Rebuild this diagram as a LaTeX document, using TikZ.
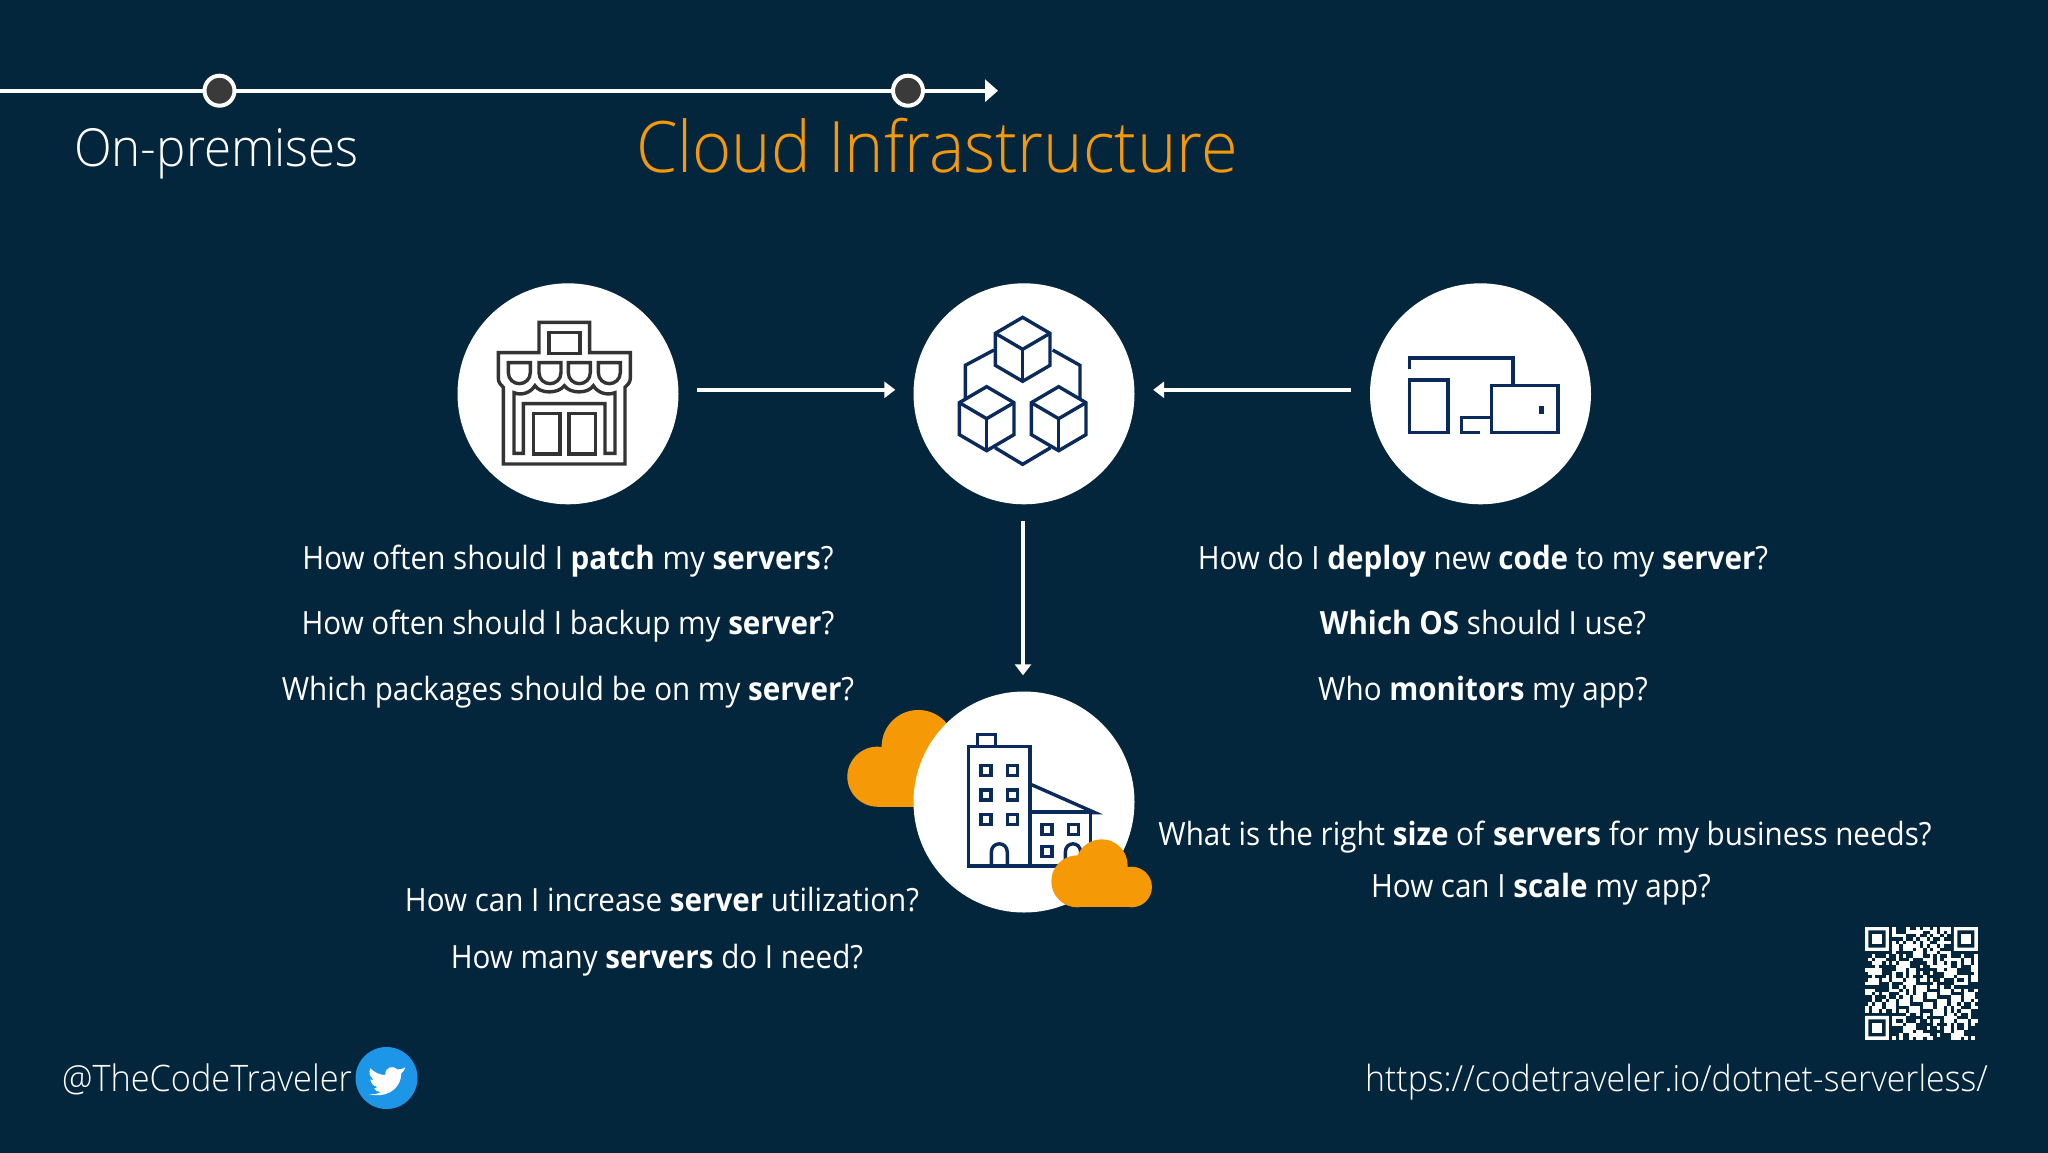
\documentclass[tikz,border=0pt]{standalone}
\usepackage{fontspec}
\setmainfont{Open Sans}[FakeStretch=0.925]
\newfontfamily\lightf{Open Sans Light}[FakeStretch=0.94]
\usetikzlibrary{arrows.meta,calc}
\definecolor{bg}{HTML}{03263C}
\definecolor{navy}{HTML}{0B2A5C}
\definecolor{inkgrey}{HTML}{333333}
\definecolor{amber}{HTML}{F59A06}
\definecolor{tw}{HTML}{1D96E8}
\definecolor{dot}{HTML}{3A3A3A}
\tikzset{
  disc/.style={circle,fill=white,minimum size=221pt,inner sep=0pt},
  arr/.style={white,line width=3.6pt,-{Triangle[width=16pt,length=11pt]}},
  q/.style={text=white,anchor=base,inner sep=0pt,font=\fontsize{32}{38}\selectfont},
  tl/.style={circle,draw=white,line width=4pt,fill=dot,minimum size=30pt,inner sep=0pt},
  iconline/.style={line width=3.4pt,draw=navy,line join=miter},
  storeline/.style={line width=3.4pt,draw=inkgrey,line join=miter},
}
\begin{document}
\begin{tikzpicture}[x=1pt,y=-1pt]
\useasboundingbox (0,0) rectangle (2048,1152);
\fill[bg] (-3,-3) rectangle (2051,1155);

% timeline
\coordinate (ls) at (0,90.7);
\coordinate (le) at (998,90.7);
\draw[white,line width=4pt,-{Triangle[width=22pt,length=13pt]}] (ls) -- (le);
\node[tl] (t1) at (219.5,90.7) {};
\node[tl] (t2) at (908,90.7) {};
\node[text=white,anchor=base,inner sep=0pt,font=\fontsize{52.4}{62}\lightf] (onprem) at (216.5,166) {On-premises};
\node[text=amber,anchor=base,inner sep=0pt,font=\fontsize{71}{85}\lightf] (cloud) at (937,172) {Cloud Infrastructure};

% left cloud behind the building disc
\begin{scope}[shift={(830,680)},x=.3333pt,y=-.3333pt]
  \fill[amber] (142,290) circle[radius=30pt];
  \fill[amber] (265,200) circle[radius=36.7pt];
  \fill[amber] (142,240) rectangle (400,380);
\end{scope}

% discs
\node[disc] (store) at (568,393.8) {};
\node[disc] (cubes) at (1024,393.8) {};
\node[disc] (devices) at (1480.5,393.8) {};
\node[disc] (building) at (1024,802) {};

% arrows
\draw[arr] ([xshift=18.5pt,yshift=4pt]store.east) -- ([xshift=-18pt,yshift=4pt]cubes.west);
\draw[arr] ([xshift=-18.5pt,yshift=4pt]devices.west) -- ([xshift=18.5pt,yshift=4pt]cubes.east);
\draw[arr] ([xshift=-1pt,yshift=-16.5pt]cubes.south) -- ([xshift=-1pt,yshift=16pt]building.north);

% store icon
\begin{scope}[shift={(440,270)},x=.3333pt,y=-.3333pt]
  \draw[storeline] (297,157) -- (449,157) -- (449,248) -- (571,248) -- (571,325) .. controls (571,338) and (562,345) .. (555,352) -- (555,582) -- (190,582) -- (190,352) .. controls (183,345) and (175,338) .. (175,325) -- (175,248) -- (297,248) -- cycle;
  \draw[storeline] (327,187) rectangle (420,250);
  \foreach \a in {205,297,385,475}{
    \draw[storeline] (\a,278) -- (\a+66,278) -- (\a+66,308) .. controls (\a+66,328) and (\a+50,341) .. (\a+33,341) .. controls (\a+16,341) and (\a,328) .. (\a,308) -- cycle;
  }
  \draw[storeline] (222,550) -- (222,368) .. controls (245,378) and (272,368) .. (285,347) .. controls (300,372) and (355,372) .. (373,347) .. controls (390,372) and (445,372) .. (460,347) .. controls (473,368) and (500,378) .. (525,368) -- (525,550) -- (495,550) -- (495,401) -- (250,401) -- (250,550) -- cycle;
  \draw[storeline] (280,430) rectangle (360,552);
  \draw[storeline] (387,430) rectangle (466,552);
\end{scope}

% cubes icon
\begin{scope}[shift={(900,270)},x=.3333pt,y=-.3333pt]
  \foreach \cx/\cy in {368/238,260/446,476/446}{
    \draw[iconline] (\cx,\cy-96) -- (\cx+82,\cy-48) -- (\cx+82,\cy+48) -- (\cx,\cy+96) -- (\cx-82,\cy+48) -- (\cx-82,\cy-48) -- cycle;
    \draw[iconline] (\cx-82,\cy-48) -- (\cx,\cy) -- (\cx+82,\cy-48);
    \draw[iconline] (\cx,\cy) -- (\cx,\cy+96);
  }
  \draw[iconline] (282,240) -- (196,286) -- (196,385);
  \draw[iconline] (458,240) -- (540,286) -- (540,385);
  \draw[iconline] (285,533) -- (368,583) -- (452,533);
\end{scope}

% devices icon
\begin{scope}[shift={(1360,270)},x=.3333pt,y=-.3333pt]
  \draw[iconline] (149,298) -- (149,264) -- (459,264) -- (459,347);
  \draw[iconline] (149,330) rectangle (264,487);
  \draw[iconline] (394,347) rectangle (594,487);
  \draw[iconline] (361,487) -- (305,487) -- (305,442) -- (394,442);
  \fill[navy] (538,408) rectangle (551,432);
\end{scope}

% building icon
\begin{scope}[shift={(830,680)},x=.3333pt,y=-.3333pt]
  \draw[iconline] (416,200) rectangle (600,558);
  \draw[iconline] (442,163) rectangle (496,200);
  \foreach \wx/\wy in {468/271,547/271,468/345,547/345,468/418,547/418,651/448,731/448,651/515}{
    \draw[iconline] (\wx-15,\wy-15) rectangle (\wx+15,\wy+15);
  }
  \draw[iconline] (484,558) -- (484,517) .. controls (484,483) and (532,483) .. (532,517) -- (532,558);
  \draw[iconline] (600,396) -- (782,396) -- (782,558) -- (600,558);
  \draw[iconline] (600,312) -- (795,398) -- (782,398);
  \draw[iconline] (706,558) -- (706,517) .. controls (706,483) and (752,483) .. (752,517) -- (752,558);
  % front cloud
  \fill[amber] (815,556) circle[radius=26pt];
  \fill[amber] (742,604) circle[radius=26pt];
  \fill[amber] (905,621) circle[radius=20.3pt];
  \fill[amber] (742,600) rectangle (905,682);
\end{scope}

% questions
\node[q] (a1) at (568,569) {How often should I \textbf{patch} my \textbf{servers}?};
\node[q] (a2) at (568,634) {How often should I backup my \textbf{server}?};
\node[q] (a3) at (568,700) {Which packages should be on my \textbf{server}?};
\node[q] (b1) at (1483,569) {How do I \textbf{deploy} new \textbf{code} to my \textbf{server}?};
\node[q] (b2) at (1483,634) {\textbf{Which OS} should I use?};
\node[q] (b3) at (1483,700) {Who \textbf{monitors} my app?};
\node[q] (c1) at (662,911) {How can I increase \textbf{server} utilization?};
\node[q] (c2) at (657,968) {How many \textbf{servers} do I need?};
\node[q] (d1) at (1545,845) {What is the right \textbf{size} of \textbf{servers} for my business needs?};
\node[q] (d2) at (1541,897) {How can I \textbf{scale} my app?};

% footer
\node[text=white,anchor=base west,inner sep=0pt,font=\fontsize{36.5}{44}\lightf] (handle) at (62,1091) {@TheCodeTraveler};
\node[circle,fill=tw,minimum size=62pt,inner sep=0pt] (twitter) at (386.5,1078) {};
\begin{scope}[shift={(40,1030)},x=.3333pt,y=-.3333pt]
  \fill[white] (1096,112) .. controls (1085,118) and (1082,118) .. (1072,118) .. controls (1060,105) and (1035,110) .. (1036,135) .. controls (1020,135) and (1005,128) .. (991,115) .. controls (985,128) and (990,140) .. (1000,148) .. controls (1000,152) and (995,150) .. (991,148) .. controls (993,160) and (1000,168) .. (1010,170) .. controls (1012,175) and (1008,175) .. (1002,175) .. controls (1005,182) and (1015,186) .. (1022,186) .. controls (1015,192) and (1000,194) .. (986,192) .. controls (1030,205) and (1082,185) .. (1084,130) .. controls (1088,127) and (1093,122) .. (1096,112) -- cycle;
\end{scope}
\node[text=white,anchor=base east,inner sep=0pt,font=\fontsize{36}{44}\lightf] (url) at (1988,1091) {https://codetraveler.io/dotnet-serverless/};

% QR code
\begin{scope}[shift={(1865,927)},x=3.42pt,y=-3.42pt]
  \foreach \row in {0,...,32}{
    \foreach \col in {0,...,32}{
      \pgfmathtruncatemacro{\h}{mod(\row*\row*7+\col*\col*5+\row*\col*3+\col*11+\row*2+5,37)}
      \pgfmathtruncatemacro{\skipit}{(\row<8 && \col<8) || (\row<8 && \col>24) || (\row>24 && \col<8)}
      \ifnum\skipit=0 \ifnum\h<18 \fill[white] (\col,\row) rectangle (\col+1.02,\row+1.02); \fi\fi
    }
  }
  \foreach \fx/\fy in {0/0,26/0,0/26}{
    \fill[white,even odd rule] (\fx,\fy) rectangle (\fx+7,\fy+7) (\fx+1,\fy+1) rectangle (\fx+6,\fy+6);
    \fill[white] (\fx+2,\fy+2) rectangle (\fx+5,\fy+5);
  }
\end{scope}
\end{tikzpicture}
\end{document}
